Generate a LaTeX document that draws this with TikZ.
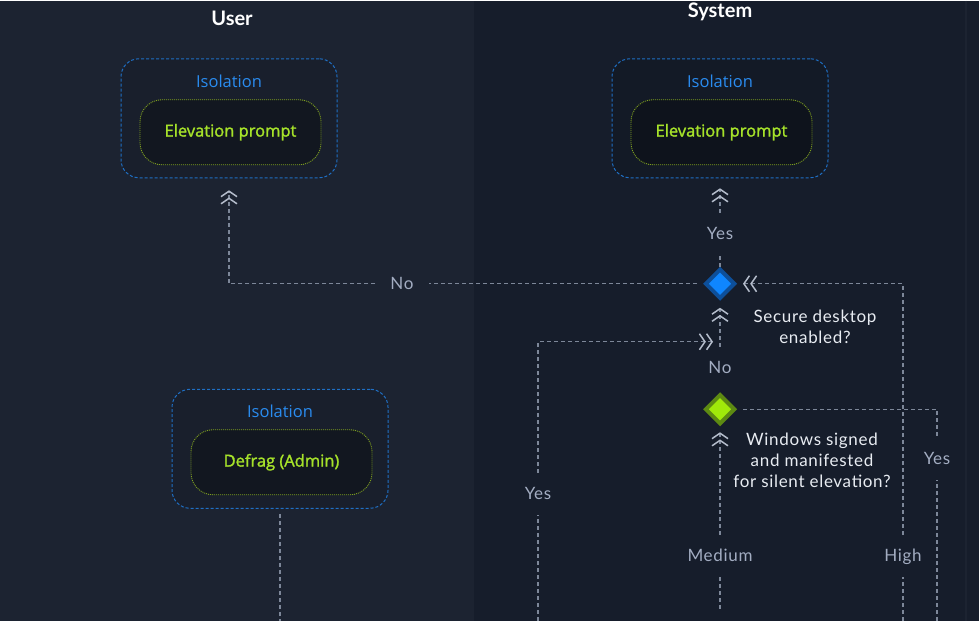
\documentclass[tikz,border=0pt]{standalone}
\usepackage{fontspec}
\usetikzlibrary{shapes.geometric,arrows.meta}
\newfontfamily\lab[LetterSpace=4]{Lato}
\newfontfamily\ttl{Lato}
\newfontfamily\boxf{Open Sans}
\newfontfamily\boxsemi[FakeBold=1.6]{Open Sans}
\definecolor{bgL}{HTML}{1C2331}
\definecolor{bgR}{HTML}{161D2B}
\definecolor{isoblue}{HTML}{1F6FC4}
\definecolor{isotext}{HTML}{2A8CF0}
\definecolor{greendot}{HTML}{7FA020}
\definecolor{greentext}{HTML}{A6E22A}
\definecolor{conncol}{HTML}{7D8799}
\definecolor{chevcol}{HTML}{B4BCCB}
\definecolor{lblcol}{HTML}{A3ADC2}
\definecolor{qcol}{HTML}{E8ECF2}
\definecolor{dblue}{HTML}{0F86FF}
\definecolor{dblueb}{HTML}{0D4F9A}
\definecolor{dgreen}{HTML}{A0EA0A}
\definecolor{dgreenb}{HTML}{5D8A12}
\begin{document}
\begin{tikzpicture}[x=1pt,y=-1pt,
  outerbox/.style={draw=isoblue, line width=1pt, dash pattern=on 3pt off 2pt, rounded corners=18pt, fill=black, fill opacity=0.1, draw opacity=1, minimum width=216pt, minimum height=119pt, inner sep=0pt},
  innerbox/.style={draw=greendot, line width=0.9pt, dash pattern=on 1pt off 1pt, rounded corners=22pt, fill=black, fill opacity=0.25, text opacity=1, draw opacity=1, minimum width=181pt, minimum height=65pt, inner sep=0pt, text=greentext, font=\boxsemi\fontsize{16.5}{18}\selectfont},
  isotitle/.style={text=isotext, font=\boxf\fontsize{16.5}{18}\selectfont, inner sep=0pt},
  title/.style={text=white, font=\ttl\bfseries\fontsize{20}{22}\selectfont, inner sep=0pt},
  lbl/.style={text=lblcol, font=\lab\fontsize{17}{19}\selectfont, text height=12pt, text depth=0pt, inner xsep=15pt, inner ysep=15pt},
  question/.style={text=qcol, font=\lab\fontsize{17}{21}\selectfont, align=center, inner sep=0pt},
  conn/.style={draw=conncol, line width=1.2pt, dash pattern=on 4pt off 3pt},
  dch/.style={-{Straight Barb[length=5.5pt,width=16pt,line width=1.5pt,color=chevcol] Straight Barb[length=5.5pt,width=16pt,line width=1.5pt,color=chevcol]}},
  bluedia/.style={diamond, minimum width=30pt, minimum height=30pt, inner sep=0pt, fill=dblue, draw=dblueb, line width=4pt},
  greendia/.style={diamond, minimum width=30pt, minimum height=30pt, inner sep=0pt, fill=dgreen, draw=dgreenb, line width=4pt}
]
% background
\fill[bgL] (0,0) rectangle (474,620);
\fill[bgR] (474,0) rectangle (979,620);
\draw[draw=bgL, line width=1.5pt] (966,0) -- (966,620);
\useasboundingbox (0,0) rectangle (979,620);

% titles
\node[title] (usert) at (232,18) {User};
\node[title] (syst) at (720,11) {System};

% boxes
\node[outerbox] (iso1) at (229,117.5) {};
\node[isotitle] (isot1) at (229,81) {Isolation};
\node[innerbox] (ep1) at (230.5,131.5) {Elevation prompt};

\node[outerbox] (iso2) at (720,117.5) {};
\node[isotitle] (isot2) at (720,81) {Isolation};
\node[innerbox] (ep2) at (721.5,131.5) {Elevation prompt};

\node[outerbox] (iso3) at (280,448) {};
\node[isotitle] (isot3) at (280,411) {Isolation};
\node[innerbox] (df) at (281.5,461.5) {Defrag (Admin)};

% diamonds
\node[bluedia] (d1) at (720,283) {};
\node[greendia] (d2) at (720,408.5) {};

% questions
\node[question] (q1) at (815,326) {Secure desktop\\enabled?};
\node[question] (q2) at (812,460) {Windows signed\\and manifested\\for silent elevation?};

% labels
\node[lbl] (noL) at (402,283) {No};
\node[lbl] (yesT) at (720,233) {Yes};
\node[lbl] (noM) at (720,367) {No};
\node[lbl] (yesL) at (538,493) {Yes};
\node[lbl] (yesR) at (937,458) {Yes};
\node[lbl] (med) at (720,555) {Medium};
\node[lbl] (high) at (903,555) {High};

% free ends
\coordinate (b1) at (280,620);
\coordinate (bL) at (538,620);
\coordinate (bM) at (720,611);
\coordinate (bH) at (903,620);
\coordinate (bR) at (937,620);
\coordinate (ljoin) at (720,341);

% connectors
\draw[conn, shorten <=5pt] (iso3.south) -- (b1);
\draw[conn, shorten <=6pt] (d1.west) -- (noL.east);
\draw[conn, dch, shorten >=12pt] (noL.west) -| (iso1.south);
\draw[conn] (d1.north) -- (yesT.south);
\draw[conn, dch, shorten >=10pt] (yesT.north) -- (iso2.south);
\draw[conn, dch, shorten >=6pt] (high.north) |- (d1.east);
\draw[conn] (bH) -- (high.south);
\draw[conn, dch, shorten >=7pt] (noM.north) -- (d1.south);
\draw[conn, dch, shorten >=7pt] (yesL.north) |- (ljoin);
\draw[conn] (bL) -- (yesL.south);
\draw[conn, shorten <=6pt] (d2.east) -| (yesR.north);
\draw[conn] (bR) -- (yesR.south);
\draw[conn, dch, shorten >=6pt] (med.north) -- (d2.south);
\draw[conn] (med.south) -- (bM);
\end{tikzpicture}
\end{document}
